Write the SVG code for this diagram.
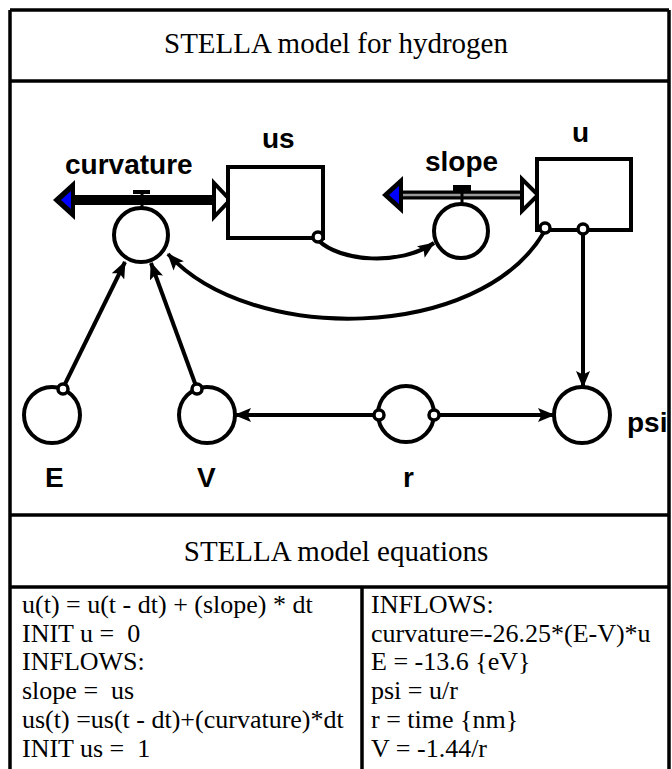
<svg xmlns="http://www.w3.org/2000/svg" width="672" height="769" viewBox="0 0 672 769">
  <style>
    .frame { fill: none; stroke: #000; stroke-width: 3.5; }
    .title { font-family: "Liberation Serif", "Times New Roman", serif; font-size: 29px; fill: #000; }
    .eq { font-family: "Liberation Serif", "Times New Roman", serif; font-size: 26px; fill: #000; white-space: pre; }
    .lbl { font-family: "Liberation Sans", Arial, sans-serif; font-weight: bold; font-size: 28px; fill: #000; }
    .stock { fill: #fff; stroke: #000; stroke-width: 4; }
    .conv { fill: #fff; stroke: #000; stroke-width: 4; }
    .dot { fill: #fff; stroke: #000; stroke-width: 3.5; }
    .link { fill: none; stroke: #000; stroke-width: 4; marker-end: url(#arrow); }
    .cloudhead { fill: #000; }
    .cloudfill { fill: #0000ff; }
    .inhead { fill: #fff; stroke: #000; stroke-width: 4; stroke-linejoin: miter; }
  </style>
  <defs>
    <marker id="arrow" markerUnits="userSpaceOnUse" markerWidth="18" markerHeight="14" refX="16" refY="7" orient="auto">
      <path d="M0,0 L17,7 L0,14 L3.5,7 z" fill="#000"/>
    </marker>
  </defs>

  <rect width="672" height="769" fill="#fff"/>

  <!-- table frame -->
  <g id="frame">
    <line class="frame" x1="10" y1="10" x2="10" y2="769"/>
    <line class="frame" x1="669" y1="10" x2="669" y2="769"/>
    <line class="frame" x1="10" y1="10" x2="669" y2="10"/>
    <line class="frame" x1="10" y1="81" x2="669" y2="81"/>
    <line class="frame" x1="10" y1="515" x2="669" y2="515"/>
    <line class="frame" x1="10" y1="587" x2="669" y2="587"/>
    <line class="frame" x1="362" y1="587" x2="362" y2="769"/>
    <text class="title" x="336" y="53" text-anchor="middle">STELLA model for hydrogen</text>
    <text class="title" x="336" y="561" text-anchor="middle">STELLA model equations</text>
  </g>

  <!-- flow pipes -->
  <g id="flow-curvature">
    <line x1="72" y1="200" x2="215" y2="200" stroke="#000" stroke-width="10"/>
    <polygon class="cloudhead" points="53,200 75,180 75,220"/>
    <polygon class="cloudfill" points="61,200 71,191 71,209"/>
    <polygon class="inhead" points="214,183 214,217 230,200"/>
    <rect x="133" y="190" width="17" height="4" fill="#000"/>
    <line x1="142" y1="192" x2="142" y2="209" stroke="#000" stroke-width="3"/>
    <circle class="conv" cx="141" cy="235" r="27"/>
    <text class="lbl" x="65" y="174">curvature</text>
  </g>

  <g id="flow-slope">
    <line x1="400" y1="195" x2="523" y2="195" stroke="#000" stroke-width="9"/>
    <line x1="400" y1="195" x2="523" y2="195" stroke="#999" stroke-width="2.5"/>
    <polygon class="cloudhead" points="382,195 403,176 403,214"/>
    <polygon class="cloudfill" points="389,195 399,186 399,204"/>
    <polygon class="inhead" points="522,179 522,211 538,195"/>
    <rect x="453" y="185" width="18" height="7" fill="#000"/>
    <line x1="462" y1="190" x2="462" y2="205" stroke="#000" stroke-width="3"/>
    <circle class="conv" cx="461" cy="231" r="27"/>
    <text class="lbl" x="425" y="171">slope</text>
  </g>

  <!-- stocks -->
  <g id="stock-us">
    <rect class="stock" x="228" y="167" width="95" height="71"/>
    <text class="lbl" x="262" y="148">us</text>
  </g>
  <g id="stock-u">
    <rect class="stock" x="537" y="159" width="94" height="71"/>
    <text class="lbl" x="572" y="142">u</text>
  </g>

  <!-- converters -->
  <g id="conv-E">
    <circle class="conv" cx="52" cy="415" r="28"/>
    <text class="lbl" x="45" y="487">E</text>
  </g>
  <g id="conv-V">
    <circle class="conv" cx="207" cy="415" r="28"/>
    <text class="lbl" x="197" y="487">V</text>
  </g>
  <g id="conv-r">
    <circle class="conv" cx="406" cy="414" r="28"/>
    <text class="lbl" x="403" y="487">r</text>
  </g>
  <g id="conv-psi">
    <circle class="conv" cx="582" cy="415" r="28"/>
    <text class="lbl" x="627" y="432">psi</text>
  </g>

  <!-- connectors -->
  <g id="connectors">
    <path class="link" d="M318,240 C340,262 400,266 434,243"/>
    <path class="link" d="M544,232 C480,342 250,345 168,254"/>
    <path class="link" d="M583,233 L583,387"/>
    <path class="link" d="M64,386 L125,262"/>
    <path class="link" d="M196,386 L151,263"/>
    <path class="link" d="M376,415 L235,415"/>
    <path class="link" d="M438,415 L554,415"/>
    <circle class="dot" cx="318" cy="237" r="5"/>
    <circle class="dot" cx="545" cy="228" r="5"/>
    <circle class="dot" cx="583" cy="229" r="5"/>
    <circle class="dot" cx="63" cy="389" r="5"/>
    <circle class="dot" cx="197" cy="389" r="5"/>
    <circle class="dot" cx="379" cy="415" r="5"/>
    <circle class="dot" cx="434" cy="415" r="5"/>
  </g>

  <!-- equations -->
  <g id="equations-left">
    <text class="eq" x="22" y="613">u(t) = u(t - dt) + (slope) * dt</text>
    <text class="eq" x="22" y="642">INIT u =  0</text>
    <text class="eq" x="22" y="670">INFLOWS:</text>
    <text class="eq" x="22" y="699">slope =  us</text>
    <text class="eq" x="22" y="728">us(t) =us(t - dt)+(curvature)*dt</text>
    <text class="eq" x="22" y="757">INIT us =  1</text>
  </g>
  <g id="equations-right">
    <text class="eq" x="371" y="613">INFLOWS:</text>
    <text class="eq" x="371" y="642">curvature=-26.25*(E-V)*u</text>
    <text class="eq" x="371" y="670">E = -13.6 {eV}</text>
    <text class="eq" x="371" y="699">psi = u/r</text>
    <text class="eq" x="371" y="728">r = time {nm}</text>
    <text class="eq" x="371" y="757">V = -1.44/r</text>
  </g>
</svg>
